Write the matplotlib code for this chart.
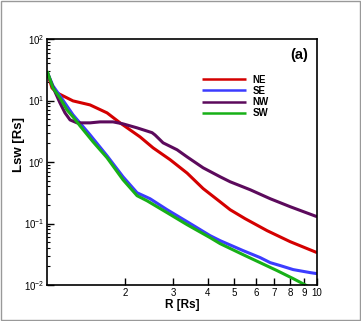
import matplotlib
matplotlib.use("Agg")
import matplotlib.pyplot as plt
from matplotlib.patches import Rectangle
from matplotlib.ticker import LogLocator, NullFormatter, FixedLocator, NullLocator

plt.rcParams['font.family'] = ['Liberation Sans', 'DejaVu Sans']
plt.rcParams['mathtext.fontset'] = 'custom'
plt.rcParams['mathtext.rm'] = 'Liberation Sans'

# ---- data (R in solar radii, Lsw in Rs) ----
r_ne = [1.04, 1.083, 1.130, 1.292, 1.490, 1.719, 1.917, 2.267, 2.528, 2.917, 3.364, 3.847, 4.438, 4.826, 5.474, 6.584, 7.987, 10.0]
l_ne = [29.1, 16.0, 13.3, 9.85, 8.48, 6.29, 4.33, 2.56, 1.70, 1.09, 0.66, 0.37, 0.225, 0.1675, 0.1197, 0.0764, 0.0506, 0.0336]

r_se = [1.04, 1.092, 1.158, 1.292, 1.490, 1.719, 1.965, 2.211, 2.465, 2.845, 3.364, 4.081, 4.438, 5.383, 6.208, 6.752, 7.344, 8.190, 9.445, 10.0]
l_se = [29.1, 17.3, 11.9, 5.84, 2.77, 1.26, 0.575, 0.316, 0.253, 0.1675, 0.107, 0.0634, 0.0526, 0.0362, 0.0279, 0.0231, 0.0207, 0.0178, 0.0159, 0.0153]

r_nw = [1.04, 1.065, 1.111, 1.158, 1.208, 1.260, 1.336, 1.490, 1.621, 1.807, 1.965, 2.211, 2.507, 2.571, 2.750, 3.093, 3.364, 3.847, 4.438, 4.826, 5.709, 6.752, 7.987, 10.0]
l_nw = [29.1, 21.6, 13.8, 9.14, 6.29, 4.84, 4.33, 4.33, 4.49, 4.49, 4.17, 3.59, 3.0, 2.75, 2.05, 1.58, 1.21, 0.805, 0.575, 0.477, 0.354, 0.253, 0.1875, 0.129]

r_sw = [1.04, 1.092, 1.158, 1.228, 1.292, 1.370, 1.528, 1.719, 1.965, 2.211, 2.404, 2.845, 3.364, 4.081, 4.438, 5.383, 7.161, 8.190, 9.445]
l_sw = [30.0, 16.0, 11.0, 7.04, 5.42, 3.87, 2.13, 1.17, 0.514, 0.283, 0.234, 0.1497, 0.0956, 0.0588, 0.047, 0.0311, 0.0171, 0.0127, 0.0091]

series = [("NE", r_ne, l_ne, "#d40000"),
          ("SE", r_se, l_se, "#3c3cff"),
          ("NW", r_nw, l_nw, "#5c0a5c"),
          ("SW", r_sw, l_sw, "#17b017")]

x_ticks = [2, 3, 4, 5, 6, 7, 8, 9, 10]
x_tick_labels = ["2", "3", "4", "5", "6", "7", "8", "9", "10"]

fig = plt.figure(figsize=(3.61, 3.21), dpi=100)
fig.patches.append(Rectangle((0.003, 0.003), 0.994, 0.994, transform=fig.transFigure,
                             fill=False, edgecolor="#999999", linewidth=1.0))
ax = fig.add_axes([47/361, 36/321, 270/361, 246/321])

for name, r, l, c in series:
    ax.plot(r, l, color=c, linewidth=2.2, label=name, solid_capstyle='butt',
            solid_joinstyle='round')

ax.set_xscale('log')
ax.set_yscale('log')
ax.set_xlim(1.0386, 10.0)
ax.set_ylim(1e-2, 1e2)

ax.xaxis.set_major_locator(FixedLocator(x_ticks))
ax.set_xticklabels(x_tick_labels)
ax.xaxis.set_minor_locator(NullLocator())
ax.yaxis.set_major_locator(LogLocator(base=10, numticks=10))
ax.yaxis.set_minor_locator(LogLocator(base=10, subs=range(2, 10), numticks=20))
ax.yaxis.set_minor_formatter(NullFormatter())

ax.tick_params(axis='both', which='major', direction='in', length=5, width=1.0,
               labelsize=7, pad=2, top=False, right=False)
ax.tick_params(axis='y', which='minor', direction='in', length=2.5, width=0.8, right=False)
for s in ax.spines.values():
    s.set_linewidth(1.2)

ax.set_xlabel("R [Rs]", fontsize=8.5, fontweight='bold', labelpad=1)
ax.set_ylabel("Lsw [Rs]", fontsize=9.5, fontweight='bold', va='center')
ax.yaxis.set_label_coords(-0.105, 0.57)

ax.text(0.967, 0.935, "(a)", transform=ax.transAxes, ha='right', va='center',
        fontsize=10.5, fontweight='bold')

leg = ax.legend(loc='upper left', bbox_to_anchor=(0.574, 0.855), frameon=False,
                prop={'size': 7, 'weight': 'bold'}, handlelength=4.5, handletextpad=0.7,
                labelspacing=0.12, borderpad=0, borderaxespad=0)
for h in leg.get_lines():
    h.set_linewidth(1.8)

fig.savefig("out.png", dpi=100)
